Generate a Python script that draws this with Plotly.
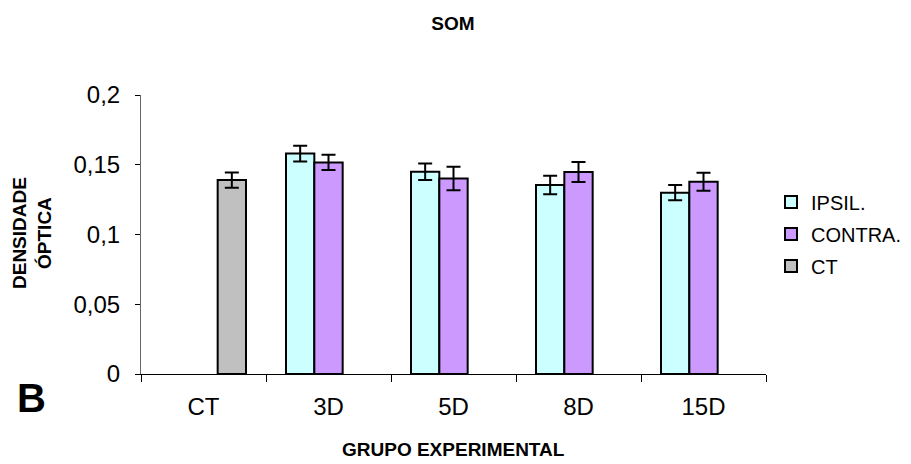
import plotly.graph_objects as go

categories = ["CT", "3D", "5D", "8D", "15D"]
ipsil = [None, 0.158, 0.145, 0.1355, 0.130]
ipsil_err = [None, 0.0056, 0.0059, 0.0066, 0.0055]
contra = [None, 0.1517, 0.1402, 0.1448, 0.1378]
contra_err = [None, 0.0055, 0.0084, 0.0072, 0.0065]
ct = [0.139, None, None, None, None]
ct_err = [0.0055, None, None, None, None]
y_ticks = [0, 0.05, 0.1, 0.15, 0.2]
y_tick_labels = ["0", "0,05", "0,1", "0,15", "0,2"]

FONT = "Liberation Sans, Arial, sans-serif"

def err(vals):
    return dict(type="data", array=vals, visible=True, color="black", thickness=2, width=7)

fig = go.Figure()
fig.add_trace(go.Bar(name="IPSIL.", x=categories, y=ipsil, error_y=err(ipsil_err),
                     legendgroup="a",
                     marker=dict(color="#CCFFFF", line=dict(color="black", width=2))))
fig.add_trace(go.Bar(name="CONTRA.", x=categories, y=contra, error_y=err(contra_err),
                     legendgroup="b",
                     marker=dict(color="#CC99FF", line=dict(color="black", width=2))))
fig.add_trace(go.Bar(name="CT", x=categories, y=ct, error_y=err(ct_err),
                     legendgroup="c",
                     marker=dict(color="#C0C0C0", line=dict(color="black", width=2))))

# page body has an 8px margin: compensate so the plot area sits at x 141-766, y 95-374
fig.update_layout(
    width=903, height=456,
    margin=dict(l=133, r=145, t=87, b=90, autoexpand=False),
    paper_bgcolor="white", plot_bgcolor="white",
    barmode="group", bargap=0.32, bargroupgap=0,
    font=dict(family=FONT, color="black"),
    title=dict(text="<b>SOM</b>", x=(453 - 8) / 903, xanchor="center",
               y=1 - (23 - 8) / 456, yanchor="middle", font=dict(size=19)),
    legend=dict(x=1.008, xanchor="left", y=0.502, yanchor="middle",
                font=dict(size=20), itemwidth=30, tracegroupgap=3,
                bgcolor="rgba(0,0,0,0)"),
    showlegend=True,
)
fig.update_xaxes(showline=True, linecolor="black", linewidth=1, ticks="outside",
                 tickson="boundaries", ticklen=7, tickcolor="black",
                 tickfont=dict(size=24), showgrid=False, ticklabelstandoff=11)
fig.update_yaxes(range=[0, 0.2], showline=True, linecolor="#666666", linewidth=1,
                 ticks="outside", ticklen=5, tickcolor="black",
                 tickvals=y_ticks, ticktext=y_tick_labels, tickfont=dict(size=24),
                 showgrid=False, zeroline=False, ticklabelstandoff=10)

fig.add_annotation(text="<b>DENSIDADE<br>ÓPTICA</b>", xref="paper", yref="paper",
                   x=(32 - 141) / 625, y=(374 - 233) / 279, xanchor="center", yanchor="middle",
                   textangle=-90, showarrow=False, font=dict(size=19))
fig.add_annotation(text="<b>GRUPO EXPERIMENTAL</b>", xref="paper", yref="paper",
                   x=(453 - 141) / 625, y=(374 - 449) / 279, xanchor="center", yanchor="middle",
                   showarrow=False, font=dict(size=19))
fig.add_annotation(text="<b>B</b>", xref="paper", yref="paper",
                   x=(31 - 141) / 625, y=(374 - 398) / 279, xanchor="center", yanchor="middle",
                   showarrow=False, font=dict(size=40))

fig.write_html("out.html")
